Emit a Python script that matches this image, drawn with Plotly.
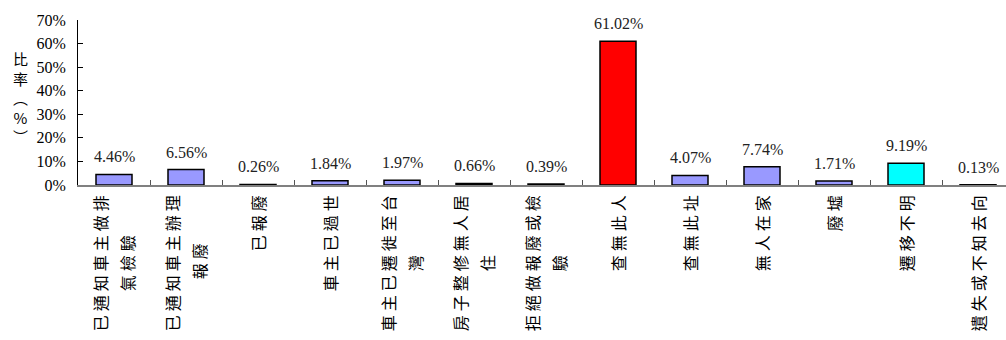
import plotly.graph_objects as go

# Survey outcome categories and their share (%)
categories = [
    "已通知車主做排氣檢驗",
    "已通知車主辦理報廢",
    "已報廢",
    "車主已過世",
    "車主已遷徙至台灣",
    "房子整修無人居住",
    "拒絕做報廢或檢驗",
    "查無此人",
    "查無此址",
    "無人在家",
    "廢墟",
    "遷移不明",
    "遺失或不知去向",
]
values = [4.46, 6.56, 0.26, 1.84, 1.97, 0.66, 0.39, 61.02, 4.07, 7.74, 1.71, 9.19, 0.13]
y_ticks = [0, 10, 20, 30, 40, 50, 60, 70]

BASE_COLOR = "#9999FF"
HIGHLIGHT = {"查無此人": "#FF0000", "遷移不明": "#00FFFF"}
bar_colors = [HIGHLIGHT.get(c, BASE_COLOR) for c in categories]

SERIF = "'Liberation Serif', 'Times New Roman', 'Noto Sans CJK TC', serif"
LABEL_PX = 16      # glyph size of the category labels
WRAP = 7           # characters per label column


def vertical_label(name):
    """Split a label into columns of WRAP characters, space the glyphs,
    and pad shorter columns so they sit centred against the first one."""
    chunks = [name[i:i + WRAP] for i in range(0, len(name), WRAP)]
    first = len(chunks[0])
    lines = []
    for k, ch in enumerate(chunks):
        text = " ".join(ch)
        if k > 0:
            diff = first - len(ch)
            pad = " \u3000" * (diff // 2)
            if diff % 2:
                pad += "\u2002"
            text = text + pad
        lines.append(text)
    return "<br>".join(f'<span style="font-size:{LABEL_PX}px">{t}</span>' for t in lines)


tick_text = [vertical_label(c) for c in categories]

fig = go.Figure(
    go.Bar(
        x=categories,
        y=values,
        marker=dict(color=bar_colors, line=dict(color="black", width=1.5)),
        width=0.5,
        hoverinfo="x+y",
    )
)

# value labels above each bar
for c, v in zip(categories, values):
    fig.add_annotation(
        x=c, y=v, text=f"{v:.2f}%", showarrow=False,
        yanchor="bottom", yshift=7,
        font=dict(family=SERIF, size=16, color="#222222"),
    )

# stacked, upright y-axis title
fig.add_annotation(
    xref="paper", yref="paper", x=-0.062, y=0.53,
    text="比<br>率<br>︵<br>%<br>︶", showarrow=False,
    xanchor="center", yanchor="middle",
    font=dict(family="'Noto Sans CJK TC'", size=15, color="black"),
)

fig.update_layout(
    width=1006, height=340,
    margin=dict(l=78, r=0, t=20, b=155),
    paper_bgcolor="white", plot_bgcolor="white",
    showlegend=False,
    font=dict(family=SERIF, color="black"),
    xaxis=dict(
        type="category",
        range=[-0.5, -0.5 + 928 / 72],
        tickmode="array", tickvals=categories, ticktext=tick_text,
        tickangle=-90,
        tickfont=dict(family=SERIF, size=21, color="black"),
        tickson="boundaries", ticks="inside", ticklen=5,
        tickcolor="#555555", tickwidth=1,
        showline=True, linecolor="#808080", linewidth=1.5,
        showgrid=False, zeroline=False,
        fixedrange=True,
    ),
    yaxis=dict(
        range=[0, 70],
        tickmode="array", tickvals=y_ticks,
        ticktext=[f"{t}%" for t in y_ticks],
        tickfont=dict(family=SERIF, size=16, color="black"),
        ticks="inside", ticklen=5, tickcolor="black", tickwidth=1,
        showline=True, linecolor="black", linewidth=1,
        showgrid=False, zeroline=False,
        ticklabelstandoff=8,
        fixedrange=True,
    ),
)

fig.write_html("out.html")
